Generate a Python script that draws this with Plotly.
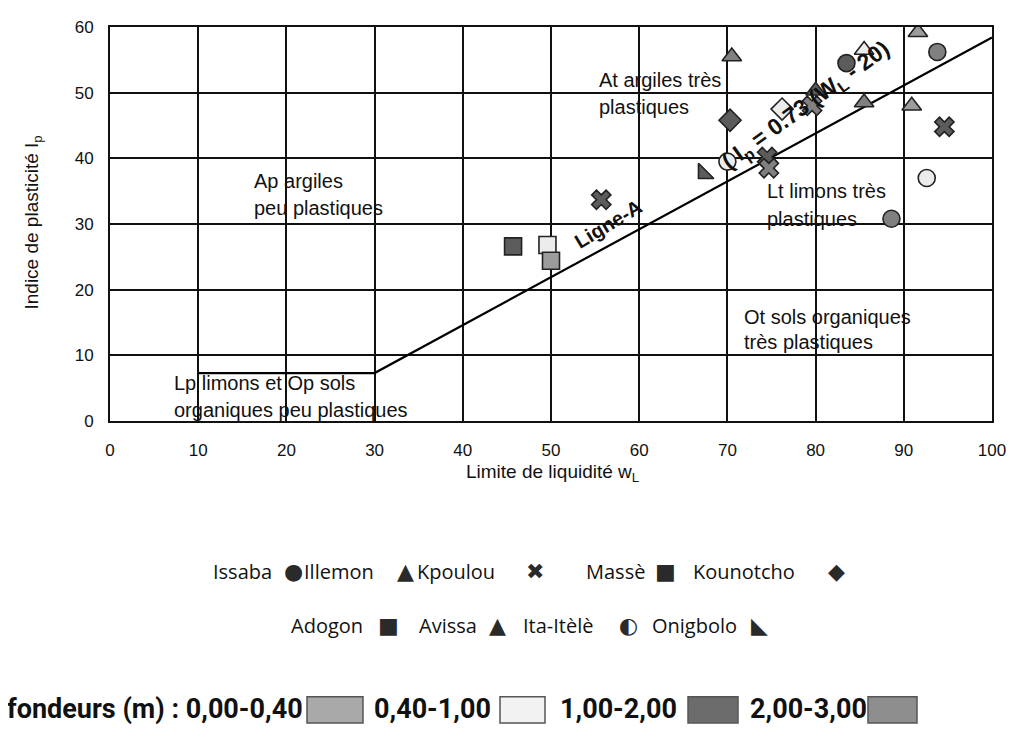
import plotly.graph_objects as go

# ---------------- data ----------------
wl = [45.7, 49.6, 50.0, 55.7, 67.3, 70.0, 70.3, 70.5, 74.5, 74.7, 76.2,
      79.6, 80.0, 83.5, 85.5, 85.5, 91.6, 93.8, 90.9, 94.6, 92.6, 88.6]
ip = [26.6, 26.8, 24.4, 33.7, 37.7, 39.5, 45.8, 55.5, 40.2, 38.5, 47.5,
      48.0, 50.3, 54.5, 56.5, 48.5, 59.2, 56.2, 48.0, 44.8, 37.0, 30.8]
site = ["Massè", "Adogon", "Adogon", "Kpoulou", "Onigbolo", "Ita-Itèlè",
        "Kounotcho", "Illemon", "Kpoulou", "Kpoulou", "Kounotcho",
        "Kpoulou", "Avissa", "Ita-Itèlè", "Illemon", "Avissa", "Avissa",
        "Ita-Itèlè", "Illemon", "Kpoulou", "Issaba", "Issaba"]
depth = ["1,00-2,00", "0,40-1,00", "0,00-0,40", "1,00-2,00", "1,00-2,00",
         "0,40-1,00", "1,00-2,00", "2,00-3,00", "1,00-2,00", "2,00-3,00",
         "0,40-1,00", "2,00-3,00", "1,00-2,00", "1,00-2,00", "0,40-1,00",
         "2,00-3,00", "0,00-0,40", "2,00-3,00", "0,00-0,40", "1,00-2,00",
         "0,40-1,00", "2,00-3,00"]

# A-line (Casagrande)
aline_wl = [10, 30, 100]
aline_ip = [7.3, 7.3, 58.4]

x_ticks = [0, 10, 20, 30, 40, 50, 60, 70, 80, 90, 100]
y_ticks = [0, 10, 20, 30, 40, 50, 60]

legend_row1 = ["Issaba", "Illemon", "Kpoulou", "Massè", "Kounotcho"]
legend_row2 = ["Adogon", "Avissa", "Ita-Itèlè", "Onigbolo"]
depth_classes = ["0,00-0,40", "0,40-1,00", "1,00-2,00", "2,00-3,00"]

# ---------------- styles ----------------
symbol_of = {"Issaba": "circle", "Illemon": "triangle-up", "Kpoulou": "x",
             "Massè": "square", "Kounotcho": "diamond", "Adogon": "square",
             "Avissa": "triangle-up", "Ita-Itèlè": "circle",
             "Onigbolo": "triangle-sw"}
glyph_of = {"Issaba": "●", "Illemon": "▲", "Kpoulou": "✖", "Massè": "■",
            "Kounotcho": "◆", "Adogon": "■", "Avissa": "▲",
            "Ita-Itèlè": "◐", "Onigbolo": "◣"}
color_of = {"0,00-0,40": "#9c9c9c", "0,40-1,00": "#ececec",
            "1,00-2,00": "#5c5c5c", "2,00-3,00": "#808080"}

# page offset of the figure (default body margin of the html page)
OFF = 8
# plot area in page pixels
L, R, T, B = 110, 992, 18, 421
W, H = 1020 - OFF, 739 - OFF


def px(xp):
    return (xp - L) / (R - L)


def py(yp):
    return (B - yp) / (B - T)


fig = go.Figure()

fig.add_trace(go.Scatter(x=aline_wl, y=aline_ip, mode="lines",
                         line=dict(color="black", width=2.2),
                         hoverinfo="skip"))

for s in dict.fromkeys(site):
    idx = [i for i, v in enumerate(site) if v == s]
    fig.add_trace(go.Scatter(
        x=[wl[i] for i in idx], y=[ip[i] for i in idx], mode="markers",
        name=s,
        marker=dict(symbol=symbol_of[s], size=17,
                    color=[color_of[depth[i]] for i in idx],
                    line=dict(color="#222", width=1.6))))

ann = []
TXT = "Liberation Sans, Arial, sans-serif"

# region labels
regions = [
    ("Ap argiles", 16.1, 36.6), ("peu plastiques", 16.1, 32.5),
    ("At argiles très", 55.2, 52.0), ("plastiques", 55.2, 47.8),
    ("Lt limons très", 74.3, 35.1), ("plastiques", 74.3, 30.7),
    ("Ot sols organiques", 71.7, 15.8), ("très plastiques", 71.7, 12.1),
    ("Lp limons et Op sols", 7.0, 5.8), ("organiques peu plastiques", 7.0, 1.6),
]
for t, x, y in regions:
    ann.append(dict(x=x, y=y, xref="x", yref="y", text=t, showarrow=False,
                    xanchor="left", yanchor="middle",
                    font=dict(family=TXT, size=20, color="#111")))

# A-line labels
ann.append(dict(x=56.5, y=30.0, xref="x", yref="y", text="<b>Ligne-A</b>",
                showarrow=False, textangle=-31, xanchor="center",
                yanchor="middle",
                font=dict(family=TXT, size=20, color="#111")))
ann.append(dict(x=79.0, y=48.0, xref="x", yref="y",
                text="<b>( I<sub>p</sub> = 0.73 (W<sub>L</sub> - 20)</b>",
                showarrow=False, textangle=-36, xanchor="center",
                yanchor="middle",
                font=dict(family=TXT, size=23, color="#111")))

# axis titles
ann.append(dict(x=px(552), y=py(474), xref="paper", yref="paper",
                text="Limite de liquidité w<sub>L</sub>", showarrow=False,
                xanchor="center", yanchor="middle",
                font=dict(family=TXT, size=19, color="#111")))
ann.append(dict(x=px(33), y=py(218), xref="paper", yref="paper",
                text="Indice de plasticité I<sub>p</sub>", showarrow=False,
                textangle=-90, xanchor="center", yanchor="middle",
                font=dict(family=TXT, size=19, color="#111")))

# site legend (name followed by its symbol)
LEG = "Open Sans, Lato, sans-serif"
row1_pos = [(211, 293), (302, 405), (415, 535), (584, 665), (691, 836)]
row2_pos = [(289, 388), (417, 497), (521, 628), (650, 759)]
for names, poss, yrow in ((legend_row1, row1_pos, 575),
                          (legend_row2, row2_pos, 630)):
    for n, (xt, xg) in zip(names, poss):
        ann.append(dict(x=px(xt), y=py(yrow), xref="paper", yref="paper",
                        text=n, showarrow=False, xanchor="left",
                        yanchor="middle",
                        font=dict(family=LEG, size=20, color="#111")))
        ann.append(dict(x=px(xg), y=py(yrow), xref="paper", yref="paper",
                        text=glyph_of[n], showarrow=False, xanchor="center",
                        yanchor="middle",
                        font=dict(family="DejaVu Sans", size=22,
                                  color="#2a2a2a")))

# depth legend
BOLD = "Roboto, Liberation Sans, sans-serif"
ytxt = 716
depth_text = [("fondeurs (m) : " + depth_classes[0], 5, "left"),
              (depth_classes[1], 372, "left"),
              (depth_classes[2], 558, "left"),
              (depth_classes[3], 748, "left")]
for t, x, anc in depth_text:
    ann.append(dict(x=px(x), y=py(ytxt), xref="paper", yref="paper",
                    text="<b>" + t + "</b>", showarrow=False, xanchor=anc,
                    yanchor="middle",
                    font=dict(family=BOLD, size=27, color="#111")))

boxes = [(307, 363), (500, 545), (688, 738), (868, 917)]
shapes = []
box_fill = ["#a9a9a9", "#f2f2f2", "#6c6c6c", "#8e8e8e"]
for (x0, x1), c in zip(boxes, box_fill):
    shapes.append(dict(type="rect", xref="paper", yref="paper",
                       x0=px(x0), x1=px(x1), y0=py(730), y1=py(703),
                       fillcolor=c, line=dict(color="#555", width=1.5)))

fig.update_layout(
    width=W, height=H, autosize=False,
    margin=dict(l=L - OFF, r=W - (R - OFF), t=T - OFF, b=H - (B - OFF),
                pad=0),
    paper_bgcolor="white", plot_bgcolor="white",
    showlegend=False,
    annotations=ann, shapes=shapes,
    xaxis=dict(range=[0, 100], tickvals=x_ticks, showgrid=True,
               gridcolor="#111", gridwidth=2, zeroline=False,
               showline=True, linecolor="#111", linewidth=2, mirror=True,
               ticks="outside", ticklen=13, tickcolor="rgba(0,0,0,0)",
               tickfont=dict(family=TXT, size=17, color="#111")),
    yaxis=dict(range=[0, 60], tickvals=y_ticks, showgrid=True,
               gridcolor="#111", gridwidth=2, zeroline=False,
               showline=True, linecolor="#111", linewidth=2, mirror=True,
               ticks="outside", ticklen=11, tickcolor="rgba(0,0,0,0)",
               tickfont=dict(family=TXT, size=17, color="#111")),
)

fig.write_html("out.html")
